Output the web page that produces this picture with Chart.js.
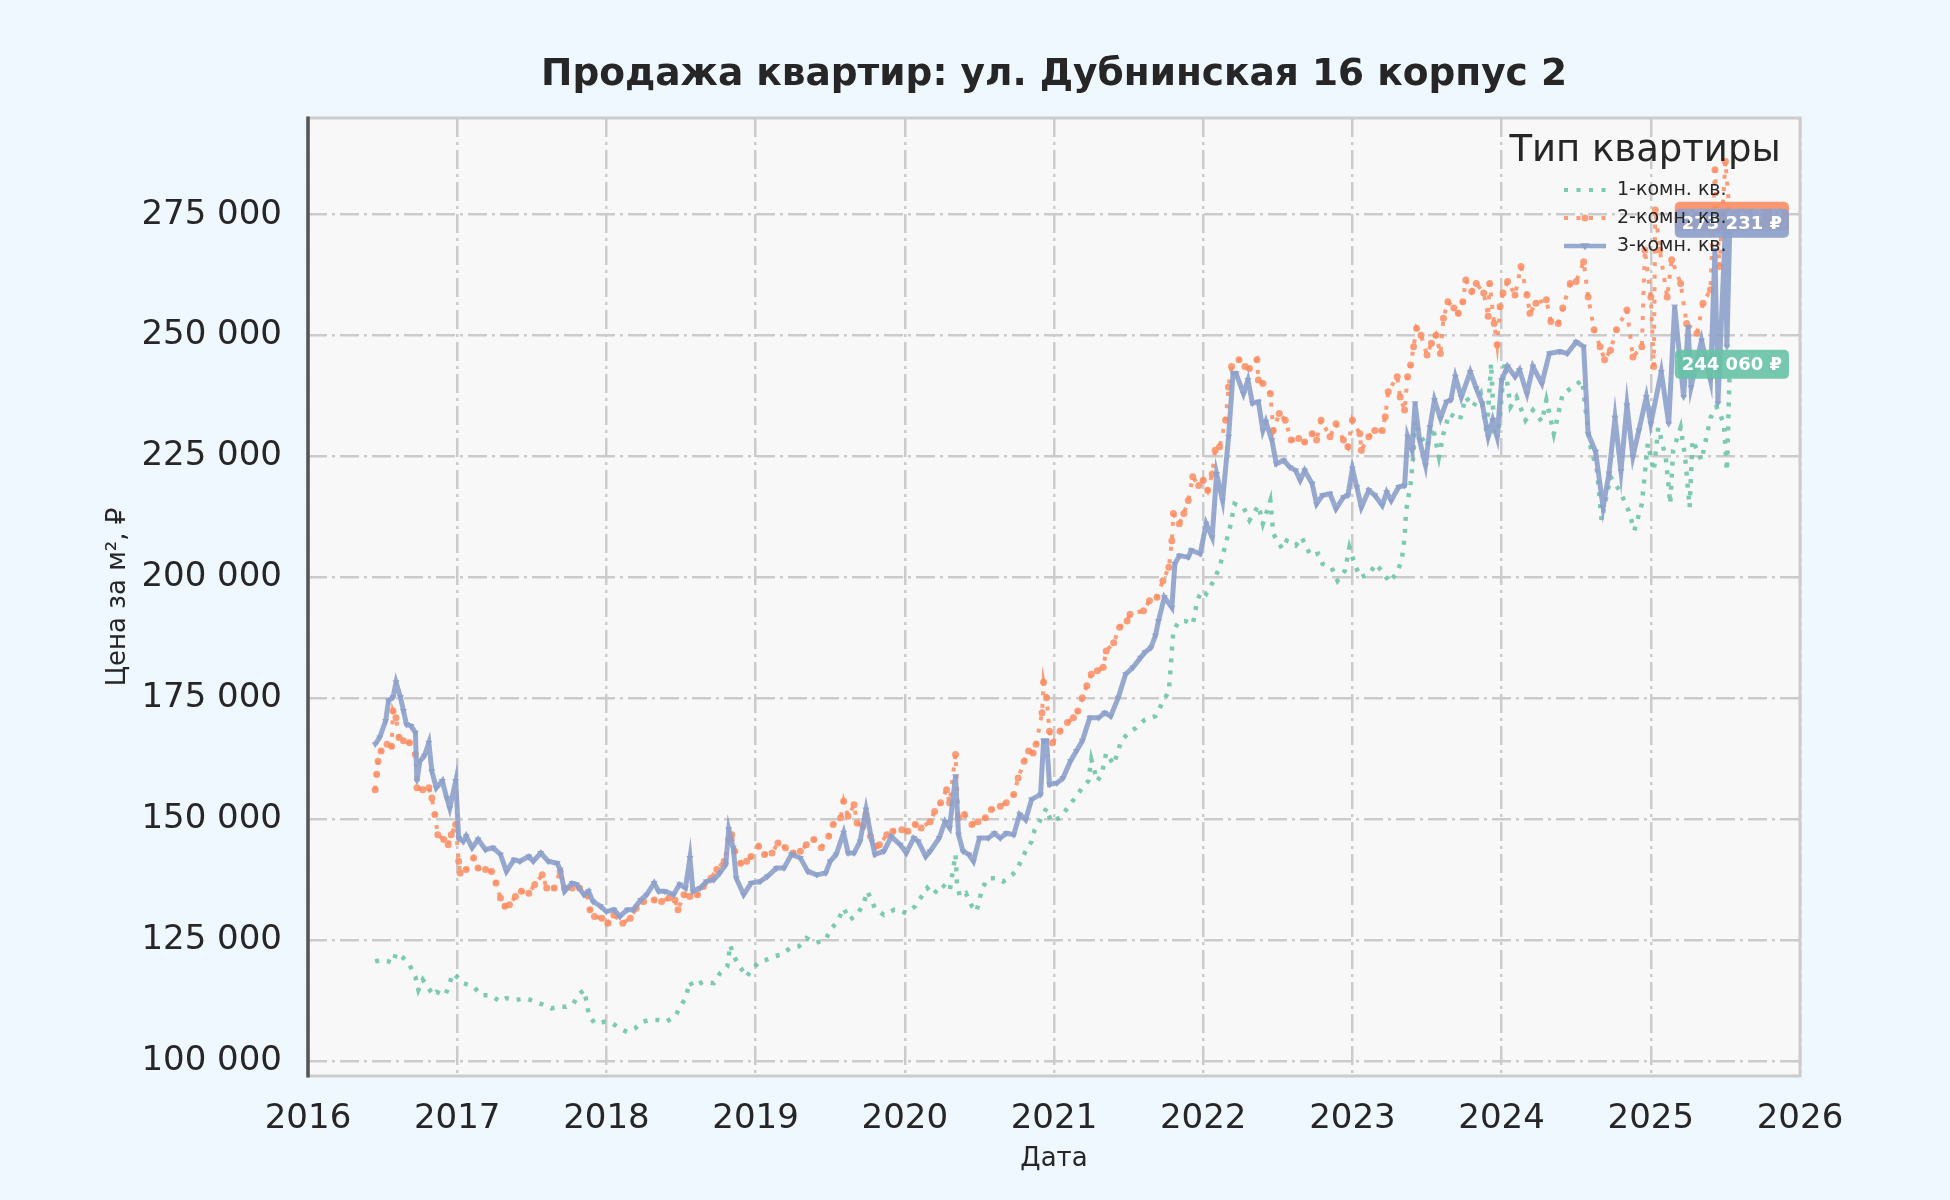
<!DOCTYPE html>
<html>
<head>
<meta charset="utf-8">
<title>Продажа квартир</title>
<script src="https://cdn.jsdelivr.net/npm/chart.js@4.4.1/dist/chart.umd.min.js"></script>
<style>
  html, body { margin: 0; padding: 0; background: #f0f8ff; }
  #wrap { width: 1950px; height: 1200px; }
</style>
</head>
<body>
<div id="wrap"><canvas id="priceChart" width="1950" height="1200"></canvas></div>
<script>
// --- data (decimal year, rub per m2) ---
const oneRoomYears = [2016.45,2016.49,2016.54,2016.57,2016.59,2016.64,2016.68,2016.72,2016.74,2016.77,2016.8,2016.84,2016.86,2016.92,2016.95,2016.97,2017.01,2017.04,2017.11,2017.16,2017.22,2017.29,2017.33,2017.39,2017.46,2017.52,2017.58,2017.63,2017.69,2017.73,2017.78,2017.81,2017.85,2017.87,2017.88,2017.92,2017.99,2018.04,2018.09,2018.14,2018.19,2018.24,2018.29,2018.34,2018.4,2018.46,2018.49,2018.53,2018.56,2018.58,2018.65,2018.72,2018.76,2018.81,2018.83,2018.85,2018.88,2018.94,2018.97,2019.03,2019.07,2019.12,2019.17,2019.23,2019.29,2019.34,2019.4,2019.47,2019.5,2019.55,2019.59,2019.63,2019.68,2019.72,2019.75,2019.8,2019.86,2019.93,2020.01,2020.07,2020.15,2020.19,2020.25,2020.3,2020.34,2020.35,2020.37,2020.41,2020.45,2020.48,2020.52,2020.56,2020.62,2020.66,2020.72,2020.75,2020.81,2020.85,2020.87,2020.91,2020.95,2020.98,2021.04,2021.09,2021.14,2021.19,2021.23,2021.25,2021.29,2021.32,2021.35,2021.4,2021.43,2021.45,2021.5,2021.55,2021.61,2021.68,2021.71,2021.74,2021.77,2021.79,2021.8,2021.84,2021.88,2021.93,2021.96,2021.99,2022.02,2022.07,2022.11,2022.15,2022.18,2022.21,2022.27,2022.31,2022.37,2022.4,2022.45,2022.47,2022.53,2022.56,2022.62,2022.66,2022.72,2022.77,2022.8,2022.86,2022.9,2022.95,2022.98,2023.0,2023.05,2023.11,2023.16,2023.21,2023.25,2023.3,2023.33,2023.35,2023.36,2023.39,2023.41,2023.42,2023.45,2023.5,2023.54,2023.58,2023.61,2023.65,2023.72,2023.76,2023.81,2023.86,2023.9,2023.93,2023.95,2023.98,2024.02,2024.06,2024.1,2024.16,2024.21,2024.27,2024.3,2024.35,2024.41,2024.48,2024.54,2024.59,2024.64,2024.67,2024.73,2024.79,2024.85,2024.89,2024.94,2024.98,2025.02,2025.05,2025.1,2025.13,2025.15,2025.2,2025.23,2025.26,2025.28,2025.34,2025.4,2025.44,2025.49,2025.51,2025.53];
const oneRoomPrice = [120600,120900,120600,120200,122300,121300,119900,117400,114700,116800,115400,113600,114300,113600,116100,118100,117100,116100,115400,113600,113600,112300,113000,112600,113000,112300,111600,110900,111200,111200,111900,113600,114700,111900,109800,107800,108100,107800,106700,106000,106700,108100,108500,108500,108100,109200,110900,113000,116400,115400,116400,116100,118100,119500,124000,122000,120200,117400,118800,120600,120900,121600,122000,123300,123700,125400,124400,125100,127100,128900,131600,129200,130200,132300,135100,131600,130200,131300,130600,132000,135800,134400,136500,135100,142700,136500,134000,134700,132000,130900,135800,137800,137800,137100,138500,139500,143400,145400,147800,149900,152300,149500,150300,152300,154400,156500,157900,162400,157900,159300,163700,161300,164100,166200,167900,168900,170600,171300,173100,174800,176500,184800,189000,191000,191000,190300,195200,197300,196600,199300,202100,206900,210400,215200,214500,211800,214900,211100,215900,209000,205900,207600,206600,208300,204500,204900,202800,202100,199300,201400,206200,204200,200000,200700,202800,200700,199000,201100,203500,208300,213800,219400,225600,232500,229700,227000,231100,224900,229700,233900,232500,237300,235300,238000,229700,244300,229700,230400,244300,235300,237300,232500,234600,232200,236700,229700,238000,239400,240800,227700,222000,211800,220800,218000,213900,209700,215200,227700,222000,231000,224900,215200,226300,231000,224900,214500,228400,224200,233000,235300,231800,222000,244060];

const twoRoomYears = [2016.45,2016.46,2016.47,2016.49,2016.53,2016.56,2016.57,2016.59,2016.61,2016.64,2016.68,2016.72,2016.73,2016.77,2016.81,2016.83,2016.85,2016.87,2016.91,2016.94,2016.96,2016.99,2017.01,2017.02,2017.06,2017.11,2017.14,2017.19,2017.23,2017.26,2017.29,2017.32,2017.35,2017.39,2017.43,2017.48,2017.52,2017.57,2017.6,2017.65,2017.69,2017.72,2017.77,2017.82,2017.87,2017.89,2017.92,2017.97,2018.01,2018.05,2018.11,2018.16,2018.2,2018.25,2018.32,2018.37,2018.42,2018.46,2018.48,2018.52,2018.56,2018.61,2018.65,2018.7,2018.74,2018.79,2018.82,2018.84,2018.86,2018.9,2018.94,2018.97,2019.02,2019.06,2019.11,2019.15,2019.2,2019.25,2019.3,2019.34,2019.39,2019.44,2019.49,2019.52,2019.57,2019.59,2019.62,2019.66,2019.68,2019.72,2019.74,2019.77,2019.81,2019.83,2019.88,2019.92,2019.98,2020.02,2020.07,2020.11,2020.17,2020.2,2020.24,2020.28,2020.3,2020.34,2020.36,2020.4,2020.45,2020.49,2020.54,2020.58,2020.64,2020.68,2020.73,2020.76,2020.8,2020.83,2020.86,2020.88,2020.92,2020.93,2020.95,2020.97,2020.99,2021.04,2021.09,2021.13,2021.16,2021.19,2021.22,2021.25,2021.29,2021.33,2021.35,2021.4,2021.44,2021.49,2021.51,2021.6,2021.64,2021.69,2021.73,2021.77,2021.79,2021.8,2021.84,2021.87,2021.9,2021.93,2021.97,2022.0,2022.03,2022.06,2022.08,2022.11,2022.15,2022.17,2022.19,2022.24,2022.28,2022.31,2022.36,2022.37,2022.4,2022.45,2022.47,2022.51,2022.55,2022.59,2022.64,2022.68,2022.73,2022.76,2022.79,2022.85,2022.89,2022.94,2022.97,2023.0,2023.05,2023.06,2023.11,2023.15,2023.2,2023.22,2023.24,2023.3,2023.32,2023.35,2023.37,2023.39,2023.41,2023.43,2023.46,2023.5,2023.53,2023.56,2023.59,2023.61,2023.64,2023.68,2023.71,2023.74,2023.76,2023.8,2023.83,2023.88,2023.91,2023.92,2023.95,2023.97,2023.99,2024.01,2024.04,2024.09,2024.13,2024.17,2024.19,2024.23,2024.3,2024.33,2024.38,2024.41,2024.46,2024.5,2024.55,2024.58,2024.62,2024.66,2024.69,2024.73,2024.77,2024.84,2024.88,2024.94,2024.96,2025.0,2025.02,2025.03,2025.06,2025.11,2025.14,2025.2,2025.24,2025.31,2025.35,2025.4,2025.43,2025.46,2025.5,2025.53];
const twoRoomPrice = [156100,159300,162000,164100,165500,165100,172400,171000,166900,166200,165800,163400,156500,156100,156500,154400,151000,146800,145800,144700,146800,148900,141300,138900,139600,142000,139900,139600,139200,136800,133700,132000,132300,134000,135100,134700,136500,138500,135800,135800,139200,135800,135800,135800,134400,131300,129900,129500,128500,130200,128500,129500,131600,133000,133300,133000,133700,133300,131300,134400,134000,134400,136100,137800,139600,141300,145800,146800,143400,140900,141300,142300,144400,142700,143000,145100,144100,143000,143400,144700,145800,144100,146500,148900,150300,153700,150600,153000,149200,148500,151000,146500,144400,144700,146800,147500,147800,147500,148900,148200,149500,151600,153400,156100,153400,163400,150300,151000,148900,149500,150300,152000,152700,153400,155100,158500,162000,164100,163700,165500,172000,178300,175100,168200,165800,168200,170000,171000,172400,175100,177600,180000,180700,181400,184800,186500,189700,191000,192400,193100,195200,195900,199300,202100,207600,213200,211100,213200,215900,220800,219000,220100,218000,221400,226300,227000,232500,239400,243600,245000,243600,243200,245000,240800,240100,238000,230400,233900,232500,228400,228700,228000,229700,228400,232500,229100,231800,228400,227000,232500,229700,226300,229100,230400,230400,233200,238400,241500,237300,234600,241500,243900,247700,251500,250100,246000,248400,250100,246300,253600,257000,255700,254600,257000,261500,259100,260800,258800,254000,260800,252500,248100,256000,258800,261200,258400,264300,258400,254600,256700,257400,252900,252500,255700,260800,261200,265300,258000,251200,247700,245000,247000,251200,255300,245600,247700,267700,258000,243600,276000,267700,258000,265700,260800,252500,250500,256700,259500,284300,264300,286000,274668];

const threeRoomYears = [2016.45,2016.48,2016.52,2016.54,2016.57,2016.59,2016.62,2016.64,2016.66,2016.69,2016.72,2016.73,2016.75,2016.78,2016.81,2016.83,2016.86,2016.9,2016.93,2016.95,2016.99,2017.01,2017.04,2017.06,2017.1,2017.14,2017.19,2017.24,2017.29,2017.33,2017.38,2017.42,2017.48,2017.51,2017.56,2017.61,2017.67,2017.69,2017.72,2017.77,2017.8,2017.85,2017.88,2017.91,2017.96,2018.0,2018.05,2018.09,2018.14,2018.18,2018.23,2018.27,2018.32,2018.35,2018.39,2018.45,2018.49,2018.53,2018.56,2018.58,2018.63,2018.67,2018.72,2018.76,2018.8,2018.82,2018.85,2018.87,2018.92,2018.97,2019.03,2019.08,2019.14,2019.19,2019.24,2019.3,2019.35,2019.41,2019.47,2019.5,2019.54,2019.59,2019.62,2019.66,2019.7,2019.74,2019.78,2019.8,2019.86,2019.91,2019.97,2020.01,2020.06,2020.09,2020.14,2020.17,2020.23,2020.27,2020.3,2020.34,2020.36,2020.39,2020.43,2020.46,2020.5,2020.56,2020.6,2020.64,2020.68,2020.73,2020.77,2020.81,2020.85,2020.91,2020.93,2020.95,2020.97,2021.02,2021.06,2021.11,2021.15,2021.19,2021.24,2021.3,2021.34,2021.38,2021.43,2021.48,2021.53,2021.58,2021.61,2021.65,2021.68,2021.7,2021.74,2021.79,2021.81,2021.84,2021.9,2021.92,2021.98,2022.02,2022.06,2022.09,2022.13,2022.17,2022.2,2022.22,2022.27,2022.3,2022.33,2022.37,2022.4,2022.42,2022.46,2022.49,2022.54,2022.58,2022.62,2022.65,2022.68,2022.73,2022.76,2022.8,2022.85,2022.89,2022.94,2022.97,2023.0,2023.03,2023.06,2023.11,2023.15,2023.2,2023.23,2023.26,2023.31,2023.35,2023.37,2023.4,2023.42,2023.45,2023.49,2023.52,2023.55,2023.59,2023.63,2023.66,2023.69,2023.73,2023.79,2023.83,2023.87,2023.91,2023.94,2023.97,2024.0,2024.04,2024.09,2024.12,2024.17,2024.21,2024.27,2024.32,2024.39,2024.44,2024.5,2024.55,2024.58,2024.63,2024.68,2024.72,2024.76,2024.8,2024.84,2024.88,2024.92,2024.97,2025.0,2025.07,2025.12,2025.16,2025.22,2025.25,2025.27,2025.34,2025.4,2025.43,2025.45,2025.5,2025.51,2025.53];
const threeRoomPrice = [165500,166900,170300,174500,175200,178300,175200,172400,169600,169300,167900,157900,162000,163100,165800,159900,156500,157900,154400,152300,157900,146100,145400,146500,144100,145800,143700,144100,142700,139200,141600,141300,142300,141300,143000,141300,140900,139600,135100,136800,136500,134400,135100,133000,132000,130900,131300,129900,131300,131300,133300,134400,136800,135100,135100,134400,136500,135800,142000,135100,135800,137100,137500,138900,140600,147900,144100,137800,134400,136800,137100,138200,139900,139900,142700,142000,139200,138500,138900,141300,142700,147200,143000,143000,145400,152000,145400,142700,143400,146400,144700,143000,146100,145400,142300,143400,146100,149500,148200,158900,146800,143400,142700,141300,146100,146100,147100,146100,147100,146800,151000,149900,154100,155100,166200,166200,157200,157500,158500,162000,164100,166200,171000,171000,172000,171300,175100,180000,181400,183400,184500,185500,188000,191000,195900,193800,202800,204500,204200,205600,204900,211100,208300,221400,215900,229100,242200,242200,238000,240800,236000,236300,230400,232200,228400,223500,224200,222800,222100,220100,222100,219400,215200,217000,217300,214200,216600,217000,222500,218700,214500,218000,217000,214900,217600,215900,218700,219000,229100,226300,236000,228400,223200,231100,236700,232900,236300,236700,241500,237300,242500,239100,236000,229100,232500,229100,240800,243600,241500,242900,238000,243600,240100,246300,246700,246300,248700,247700,229700,226000,214500,221500,233000,222000,235600,225000,230400,237300,231800,242500,231800,256000,237300,251800,239400,249000,240800,267700,236000,272600,247700,273231];

const seriesNames = ['1-комн. кв.', '2-комн. кв.', '3-комн. кв.'];
const yearTicks = [2016, 2017, 2018, 2019, 2020, 2021, 2022, 2023, 2024, 2025, 2026];
const priceTicks = [100000, 125000, 150000, 175000, 200000, 225000, 250000, 275000];

const chartTitle = 'Продажа квартир: ул. Дубнинская 16 корпус 2';
const xTitle = 'Дата';
const yTitle = 'Цена за м², ₽';
const legendTitle = 'Тип квартиры';

const GREEN = 'rgba(102,194,165,0.85)';
const ORANGE = 'rgba(252,141,98,0.85)';
const BLUE = 'rgba(141,160,203,0.9)';
const FONT = "'DejaVu Sans', sans-serif";
const TEXT = '#262626';

function toPoints(xs, ys) {
    return xs.map((x, i) => ({ x: x, y: ys[i] }));
}

function rub(v) {
    return String(Math.round(v)).replace(/\B(?=(\d{3})+(?!\d))/g, ' ');
}

// background, frame, end labels, legend and titles
const decorPlugin = {
    id: 'decor',
    beforeDraw(chart) {
        const c = chart.ctx, a = chart.chartArea;
        c.save();
        c.fillStyle = '#f0f8ff';
        c.fillRect(0, 0, chart.width, chart.height);
        c.fillStyle = '#f8f8f8';
        c.fillRect(a.left, a.top, a.right - a.left, a.bottom - a.top);
        c.restore();
    },
    afterDatasetsDraw(chart) {
        const c = chart.ctx, a = chart.chartArea;
        const xs = chart.scales.x, ys = chart.scales.y;
        c.save();
        // frame
        c.strokeStyle = '#cccccc';
        c.lineWidth = 3;
        c.strokeRect(a.left, a.top, a.right - a.left, a.bottom - a.top);
        c.strokeStyle = '#555555';
        c.lineWidth = 3.5;
        c.beginPath();
        c.moveTo(a.left, a.top - 1.5);
        c.lineTo(a.left, a.bottom + 1.5);
        c.stroke();

        // last value labels
        const ends = [
            [twoRoomYears, twoRoomPrice, 'rgba(252,141,98,0.9)'],
            [threeRoomYears, threeRoomPrice, 'rgba(141,160,203,0.92)'],
            [oneRoomYears, oneRoomPrice, 'rgba(102,194,165,0.9)']
        ];
        c.font = 'bold 18px ' + FONT;
        c.textAlign = 'center';
        c.textBaseline = 'middle';
        ends.forEach(([yrs, vals, col]) => {
            const lastX = yrs[yrs.length - 1], lastY = vals[vals.length - 1];
            const px = xs.getPixelForValue(lastX) + 2;
            const py = ys.getPixelForValue(lastY);
            const label = rub(lastY) + ' ₽';
            const w = c.measureText(label).width + 14, h = 29;
            c.fillStyle = col;
            c.beginPath();
            c.roundRect(px - w / 2, py - h / 2, w, h, 5);
            c.fill();
            c.fillStyle = '#ffffff';
            c.fillText(label, px, py + 1);
        });

        // legend
        c.fillStyle = TEXT;
        c.font = '37px ' + FONT;
        c.fillText(legendTitle, 1645, 151);
        const items = [
            [GREEN, [4, 8.5], 0, null],
            [ORANGE, [4, 8.5], 3.5, 'circle'],
            [BLUE, [], 4.5, 'tri']
        ];
        items.forEach(([col, dash, r, mk], i) => {
            const y = 190 + i * 28;
            c.strokeStyle = col;
            c.lineWidth = mk === 'tri' ? 4.5 : 4;
            c.setLineDash(dash);
            c.beginPath();
            c.moveTo(1564, y);
            c.lineTo(1606, y);
            c.stroke();
            c.setLineDash([]);
            c.fillStyle = col;
            if (mk === 'circle') {
                c.beginPath();
                c.arc(1585, y, r, 0, Math.PI * 2);
                c.fill();
            } else if (mk === 'tri') {
                c.beginPath();
                c.moveTo(1585 - r, y - r * 0.6);
                c.lineTo(1585 + r, y - r * 0.6);
                c.lineTo(1585, y + r);
                c.closePath();
                c.fill();
            }
            c.fillStyle = TEXT;
            c.font = '19px ' + FONT;
            c.textAlign = 'left';
            c.fillText(seriesNames[i], 1617, y);
            c.textAlign = 'center';
        });
        c.restore();
    },
    afterDraw(chart) {
        const c = chart.ctx, a = chart.chartArea;
        c.save();
        c.fillStyle = TEXT;
        c.textAlign = 'center';
        c.textBaseline = 'middle';
        c.font = 'bold 37.5px ' + FONT;
        c.fillText(chartTitle, (a.left + a.right) / 2, 75);
        c.font = '26px ' + FONT;
        c.fillText(xTitle, (a.left + a.right) / 2, 1159);
        c.translate(118, (a.top + a.bottom) / 2);
        c.rotate(-Math.PI / 2);
        c.fillText(yTitle, 0, 0);
        c.restore();
    }
};

const ctx = document.getElementById('priceChart').getContext('2d');

const chart = new Chart(ctx, {
    type: 'line',
    data: {
        datasets: [{
            label: seriesNames[0],
            data: toPoints(oneRoomYears, oneRoomPrice),
            borderColor: GREEN,
            backgroundColor: GREEN,
            borderWidth: 4.5,
            borderDash: [4, 8],
            pointRadius: 0,
            tension: 0,
            order: 2
        }, {
            label: seriesNames[1],
            data: toPoints(twoRoomYears, twoRoomPrice),
            borderColor: ORANGE,
            backgroundColor: ORANGE,
            borderWidth: 4,
            borderDash: [4, 8.5],
            pointStyle: 'circle',
            pointRadius: 3.5,
            pointBorderWidth: 0,
            tension: 0,
            order: 1
        }, {
            label: seriesNames[2],
            data: toPoints(threeRoomYears, threeRoomPrice),
            borderColor: BLUE,
            backgroundColor: BLUE,
            borderWidth: 5,
            pointStyle: 'triangle',
            rotation: 180,
            pointRadius: 4,
            pointBorderWidth: 0,
            tension: 0,
            order: 0
        }]
    },
    options: {
        responsive: false,
        animation: false,
        devicePixelRatio: 1,
        layout: { padding: { left: 0, right: 150, top: 118, bottom: 0 } },
        plugins: {
            legend: { display: false },
            title: { display: false },
            tooltip: { enabled: false }
        },
        scales: {
            x: {
                type: 'linear',
                min: 2016,
                max: 2026,
                afterBuildTicks: (scale) => { scale.ticks = yearTicks.map(v => ({ value: v })); },
                afterFit: (scale) => { scale.height = 124; },
                ticks: {
                    callback: (v) => String(v),
                    font: { family: FONT, size: 34 },
                    color: TEXT,
                    padding: 23,
                    maxRotation: 0,
                    autoSkip: false
                },
                grid: { color: '#cbcbcb', lineWidth: 2.5, drawTicks: false },
                border: { display: false, dash: [19, 5, 3, 5] }
            },
            y: {
                type: 'linear',
                min: 96900,
                max: 295000,
                afterBuildTicks: (scale) => { scale.ticks = priceTicks.map(v => ({ value: v })); },
                afterFit: (scale) => { scale.width = 308; },
                ticks: {
                    callback: (v) => rub(v),
                    font: { family: FONT, size: 34 },
                    color: TEXT,
                    padding: 26
                },
                grid: { color: '#cbcbcb', lineWidth: 2.5, drawTicks: false },
                border: { display: false, dash: [19, 5, 3, 5] }
            }
        }
    },
    plugins: [decorPlugin]
});
</script>
</body>
</html>
